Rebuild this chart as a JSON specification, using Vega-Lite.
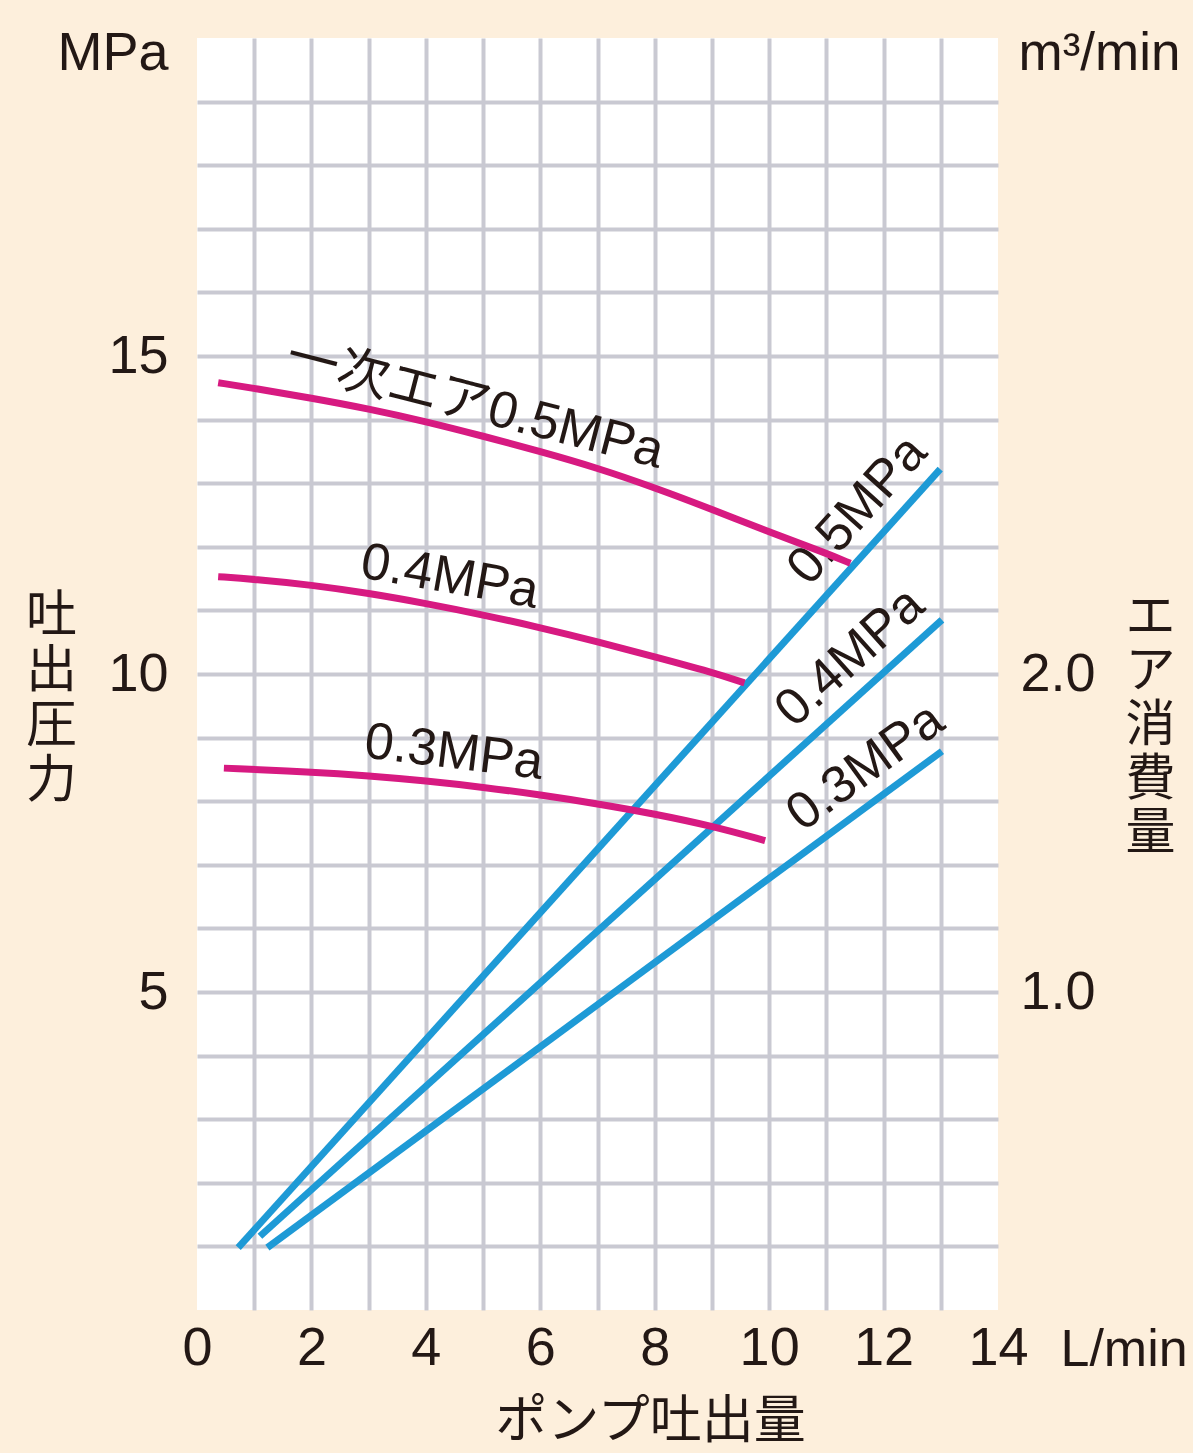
{
  "$schema": "https://vega.github.io/schema/vega-lite/v6.json",
  "width": 801,
  "height": 1272,
  "autosize": {"type": "none"},
  "padding": {"left": 197, "top": 38, "right": 195, "bottom": 143},
  "background": "#FDEFDC",
  "config": {
    "view": {"fill": "#FFFFFF", "stroke": null},
    "font": "Liberation Sans, Noto Sans CJK JP, sans-serif",
    "text": {"font": "Liberation Sans, Noto Sans CJK JP, sans-serif", "color": "#231815"},
    "axis": {
      "domain": false,
      "ticks": false,
      "tickSize": 0,
      "labelColor": "#231815",
      "titleColor": "#231815",
      "labelFont": "Liberation Sans",
      "labelFontSize": 54,
      "titleFont": "Noto Sans CJK JP",
      "titleFontWeight": "normal",
      "gridColor": "#C9C9D2",
      "gridWidth": 4,
      "gridOpacity": 1,
      "labelFlush": false,
      "labelOverlap": false,
      "titleAngle": 0,
      "titlePadding": 0
    }
  },
  "resolve": {
    "scale": {"y": "independent"},
    "axis": {"x": "independent", "y": "independent"}
  },
  "layer": [
    {
      "data": {"values": [
        {"series": "0.5MPa", "flow": 0.72, "air": 0.196},
        {"series": "0.5MPa", "flow": 12.99, "air": 2.644},
        {"series": "0.4MPa", "flow": 1.10, "air": 0.232},
        {"series": "0.4MPa", "flow": 13.02, "air": 2.17},
        {"series": "0.3MPa", "flow": 1.23, "air": 0.196},
        {"series": "0.3MPa", "flow": 13.02, "air": 1.757}
      ]},
      "mark": {"type": "line", "color": "#1E9AD6", "strokeWidth": 7, "strokeCap": "butt"},
      "encoding": {
        "x": {"field": "flow", "type": "quantitative", "scale": {"domain": [0, 14], "nice": false}, "axis": null},
        "y": {
          "field": "air", "type": "quantitative",
          "scale": {"domain": [0, 4], "nice": false},
          "axis": {
            "orient": "right", "values": [1, 2], "format": ".1f", "grid": false,
            "labelPadding": 22, "labelAlign": "left", "labelBaseline": "middle",
            "title": ["エ", "ア", "消", "費", "量"],
            "titleFontSize": 50, "titleLineHeight": 54,
            "titleX": 152, "titleY": 579, "titleAlign": "center", "titleBaseline": "middle", "titleAngle": 0
          }
        },
        "detail": {"field": "series", "type": "nominal"}
      }
    },
    {
      "data": {"values": [{"label": "0.5MPa", "flow": 11.54, "air": 2.516}]},
      "mark": {"type": "text", "angle": -48, "fontSize": 52, "align": "center", "baseline": "middle", "color": "#231815"},
      "encoding": {
        "x": {"field": "flow", "type": "quantitative", "scale": {"domain": [0, 14], "nice": false}, "axis": null},
        "y": {
          "field": "air", "type": "quantitative",
          "scale": {"domain": [0, 4], "nice": false},
          "axis": {
            "orient": "right", "values": [1, 2], "grid": false, "labels": false,
            "title": "m³/min", "titleFont": "Liberation Sans", "titleFontSize": 53,
            "titleX": 20, "titleY": 15, "titleAlign": "left", "titleBaseline": "middle", "titleAngle": 0
          }
        },
        "text": {"field": "label", "type": "nominal"}
      }
    },
    {
      "data": {"values": [{"label": "0.4MPa", "flow": 11.41, "air": 2.053}]},
      "mark": {"type": "text", "angle": -42, "fontSize": 52, "align": "center", "baseline": "middle", "color": "#231815"},
      "encoding": {
        "x": {"field": "flow", "type": "quantitative", "scale": {"domain": [0, 14], "nice": false}, "axis": null},
        "y": {"field": "air", "type": "quantitative", "scale": {"domain": [0, 4], "nice": false}, "axis": null},
        "text": {"field": "label", "type": "nominal"}
      }
    },
    {
      "data": {"values": [{"label": "0.3MPa", "flow": 11.68, "air": 1.708}]},
      "mark": {"type": "text", "angle": -36, "fontSize": 52, "align": "center", "baseline": "middle", "color": "#231815"},
      "encoding": {
        "x": {"field": "flow", "type": "quantitative", "scale": {"domain": [0, 14], "nice": false}, "axis": null},
        "y": {"field": "air", "type": "quantitative", "scale": {"domain": [0, 4], "nice": false}, "axis": null},
        "text": {"field": "label", "type": "nominal"}
      }
    },
    {
      "data": {"values": [
        {"series": "0.5MPa", "flow": 0.37, "pressure": 14.58},
        {"series": "0.5MPa", "flow": 1, "pressure": 14.49},
        {"series": "0.5MPa", "flow": 2, "pressure": 14.34},
        {"series": "0.5MPa", "flow": 3, "pressure": 14.17},
        {"series": "0.5MPa", "flow": 4, "pressure": 13.97},
        {"series": "0.5MPa", "flow": 5, "pressure": 13.74},
        {"series": "0.5MPa", "flow": 6, "pressure": 13.5},
        {"series": "0.5MPa", "flow": 7, "pressure": 13.24},
        {"series": "0.5MPa", "flow": 8, "pressure": 12.93},
        {"series": "0.5MPa", "flow": 9, "pressure": 12.59},
        {"series": "0.5MPa", "flow": 10, "pressure": 12.23},
        {"series": "0.5MPa", "flow": 11, "pressure": 11.9},
        {"series": "0.5MPa", "flow": 11.42, "pressure": 11.74},
        {"series": "0.4MPa", "flow": 0.37, "pressure": 11.53},
        {"series": "0.4MPa", "flow": 1, "pressure": 11.49},
        {"series": "0.4MPa", "flow": 2, "pressure": 11.4},
        {"series": "0.4MPa", "flow": 3, "pressure": 11.27},
        {"series": "0.4MPa", "flow": 4, "pressure": 11.11},
        {"series": "0.4MPa", "flow": 5, "pressure": 10.93},
        {"series": "0.4MPa", "flow": 6, "pressure": 10.73},
        {"series": "0.4MPa", "flow": 7, "pressure": 10.51},
        {"series": "0.4MPa", "flow": 8, "pressure": 10.27},
        {"series": "0.4MPa", "flow": 9, "pressure": 10.03},
        {"series": "0.4MPa", "flow": 9.57, "pressure": 9.86},
        {"series": "0.3MPa", "flow": 0.47, "pressure": 8.52},
        {"series": "0.3MPa", "flow": 2, "pressure": 8.46},
        {"series": "0.3MPa", "flow": 3, "pressure": 8.4},
        {"series": "0.3MPa", "flow": 4, "pressure": 8.32},
        {"series": "0.3MPa", "flow": 5, "pressure": 8.22},
        {"series": "0.3MPa", "flow": 6, "pressure": 8.1},
        {"series": "0.3MPa", "flow": 7, "pressure": 7.96},
        {"series": "0.3MPa", "flow": 8, "pressure": 7.8},
        {"series": "0.3MPa", "flow": 9, "pressure": 7.61},
        {"series": "0.3MPa", "flow": 9.93, "pressure": 7.38}
      ]},
      "mark": {"type": "line", "color": "#D71A81", "strokeWidth": 7, "strokeCap": "butt", "interpolate": "basis"},
      "encoding": {
        "x": {
          "field": "flow", "type": "quantitative",
          "scale": {"domain": [0, 14], "nice": false},
          "axis": {
            "orient": "bottom", "values": [0, 2, 4, 6, 8, 10, 12, 14], "grid": false,
            "labelPadding": 38, "labelBaseline": "middle", "labelAlign": "center",
            "title": "ポンプ吐出量", "titleFontSize": 52,
            "titleX": 453, "titleY": 111, "titleAlign": "center", "titleBaseline": "middle"
          }
        },
        "y": {
          "field": "pressure", "type": "quantitative",
          "scale": {"domain": [0, 20], "nice": false},
          "axis": {
            "orient": "left", "values": [5, 10, 15], "grid": false,
            "labelPadding": 29, "labelAlign": "right", "labelBaseline": "middle",
            "title": ["吐", "出", "圧", "力"], "titleFontSize": 51, "titleLineHeight": 55,
            "titleX": -146, "titleY": 578, "titleAlign": "center", "titleBaseline": "middle", "titleAngle": 0
          }
        },
        "detail": {"field": "series", "type": "nominal"}
      }
    },
    {
      "data": {"values": [{"label": "一次エア0.5MPa", "flow": 4.86, "pressure": 14.24}]},
      "mark": {"type": "text", "angle": 14.5, "fontSize": 52, "align": "center", "baseline": "middle", "color": "#231815"},
      "encoding": {
        "x": {
          "field": "flow", "type": "quantitative",
          "scale": {"domain": [0, 14], "nice": false},
          "axis": {
            "orient": "bottom", "values": [1, 2, 3, 4, 5, 6, 7, 8, 9, 10, 11, 12, 13], "grid": true, "labels": false,
            "title": "L/min", "titleFont": "Liberation Sans", "titleFontSize": 52,
            "titleX": 863, "titleY": 39, "titleAlign": "left", "titleBaseline": "middle"
          }
        },
        "y": {
          "field": "pressure", "type": "quantitative",
          "scale": {"domain": [0, 20], "nice": false},
          "axis": {
            "orient": "left", "values": [1, 2, 3, 4, 5, 6, 7, 8, 9, 10, 11, 12, 13, 14, 15, 16, 17, 18, 19], "grid": true, "labels": false,
            "title": "MPa", "titleFont": "Liberation Sans", "titleFontSize": 54,
            "titleX": -29, "titleY": 15, "titleAlign": "right", "titleBaseline": "middle", "titleAngle": 0
          }
        },
        "text": {"field": "label", "type": "nominal"}
      }
    },
    {
      "data": {"values": [{"label": "0.4MPa", "flow": 4.42, "pressure": 11.53}]},
      "mark": {"type": "text", "angle": 10, "fontSize": 52, "align": "center", "baseline": "middle", "color": "#231815"},
      "encoding": {
        "x": {"field": "flow", "type": "quantitative", "scale": {"domain": [0, 14], "nice": false}, "axis": null},
        "y": {"field": "pressure", "type": "quantitative", "scale": {"domain": [0, 20], "nice": false}, "axis": null},
        "text": {"field": "label", "type": "nominal"}
      }
    },
    {
      "data": {"values": [{"label": "0.3MPa", "flow": 4.49, "pressure": 8.77}]},
      "mark": {"type": "text", "angle": 7, "fontSize": 52, "align": "center", "baseline": "middle", "color": "#231815"},
      "encoding": {
        "x": {"field": "flow", "type": "quantitative", "scale": {"domain": [0, 14], "nice": false}, "axis": null},
        "y": {"field": "pressure", "type": "quantitative", "scale": {"domain": [0, 20], "nice": false}, "axis": null},
        "text": {"field": "label", "type": "nominal"}
      }
    }
  ]
}
